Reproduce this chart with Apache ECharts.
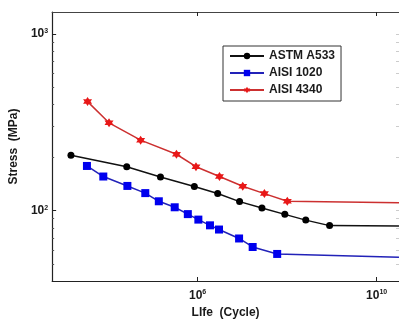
<!DOCTYPE html>
<html>
<head>
<meta charset="utf-8">
<script src="https://cdn.jsdelivr.net/npm/echarts@6/dist/echarts.min.js"></script>
<style>
  html, body { margin: 0; padding: 0; background: #fff; }
  #chart { width: 399px; height: 324px; }
</style>
</head>
<body>
<div id="chart"></div>
<script>
// S-N curves, values (cycles, MPa)
const seriesNames = ["ASTM A533", "AISI 1020", "AISI 4340"]

const a533Life = [1.48e3, 2.61e4, 1.48e5, 8.45e5, 2.81e6, 8.67e6, 2.74e7, 8.89e7, 2.61e8, 8.89e8, 3.16e10]
const a533Stress = [206, 177, 155, 137, 125, 112.5, 103.5, 95.3, 88.4, 82.3, 82]

const aisi1020Life = [3.37e3, 7.82e3, 2.7e4, 6.78e4, 1.36e5, 3.08e5, 6.05e5, 1.04e6, 1.89e6, 3.01e6, 8.45e6, 1.7e7, 6.0e7, 3.16e10]
const aisi1020Stress = [179, 156, 138, 125.7, 113, 104.5, 95.6, 89, 82.6, 78.2, 69.6, 62.3, 56.9, 54.5]

const aisi4340Life = [3.48e3, 1.05e4, 5.33e4, 3.37e5, 9.2e5, 3.08e6, 1.02e7, 3.11e7, 1.01e8, 3.16e10]
const aisi4340Stress = [414, 314, 250.6, 208.5, 177.3, 156, 137.4, 124.9, 113.1, 111]

const xMajorTicks = [1e6, 1e10]
const yMajorTicks = [100, 1000]
const yMinorTicks = [50, 60, 70, 80, 90, 200, 300, 400, 500, 600, 700, 800, 900]

const xMin = Math.pow(10, 2.75)
const xMax = Math.pow(10, 10.5)
const yMin = 40
const yMax = 1330

const font = "'Liberation Sans', Arial, sans-serif"
const textColor = "#1a1a1a"

function pairs(xs, ys) {
  // last point only carries the flat tail of the curve, no marker
  return xs.map((x, i) => {
    const item = { value: [x, ys[i]] }
    if (i === xs.length - 1) item.symbol = "none"
    return item
  })
}

function powLabel(v) {
  const e = Math.round(Math.log10(v))
  return "{b|10}{s|" + e + "}"
}

const powRich = {
  b: { fontSize: 12, fontWeight: "bold", fontFamily: font, color: textColor },
  s: { fontSize: 7, fontWeight: "bold", fontFamily: font, color: textColor, verticalAlign: "top", padding: [0, 0, 6, 0] },
}

const starPath = "path://M0,-10 L2.9,-5 L8.7,-5 L5.8,0 L8.7,5 L2.9,5 L0,10 L-2.9,5 L-8.7,5 L-5.8,0 L-8.7,-5 L-2.9,-5 Z"

const chart = echarts.init(document.getElementById("chart"), null, { renderer: "canvas" })

const option = {
  animation: false,
  backgroundColor: "#fff",
  textStyle: { fontFamily: font },
  grid: { left: 51, right: -1, top: 12, bottom: 38, containLabel: false },
  legend: {
    data: seriesNames,
    orient: "vertical",
    left: 223,
    top: 46,
    padding: [4, 6, 5, 6],
    itemGap: 5,
    itemWidth: 34,
    itemHeight: 8,
    itemTextGap: 3,
    borderColor: "#333",
    borderWidth: 1,
    backgroundColor: "#fff",
    textStyle: { fontSize: 12, fontWeight: "bold", color: textColor, fontFamily: font },
  },
  xAxis: [
    {
      type: "log",
      logBase: 10,
      min: xMin,
      max: xMax,
      position: "bottom",
      name: "LIfe  (Cycle)",
      nameLocation: "middle",
      nameGap: 26,
      nameTextStyle: { fontSize: 12, fontWeight: "bold", color: textColor, fontFamily: font },
      axisLine: { lineStyle: { color: "#222", width: 1.2 } },
      axisTick: { inside: true, length: 4, customValues: xMajorTicks, lineStyle: { color: "#222" } },
      axisLabel: { customValues: xMajorTicks, margin: 8, formatter: powLabel, rich: powRich },
      splitLine: { show: false },
    },
    {
      type: "log",
      logBase: 10,
      min: xMin,
      max: xMax,
      position: "top",
      axisLine: { lineStyle: { color: "#444", width: 1.2 } },
      axisTick: { inside: true, length: 4, customValues: xMajorTicks, lineStyle: { color: "#222" } },
      axisLabel: { show: false },
      splitLine: { show: false },
    },
  ],
  yAxis: [
    {
      type: "log",
      logBase: 10,
      min: yMin,
      max: yMax,
      position: "left",
      name: "Stress  (MPa)",
      nameLocation: "middle",
      nameGap: 25,
      nameTextStyle: { fontSize: 12, fontWeight: "bold", color: textColor, fontFamily: font },
      axisLine: { lineStyle: { color: "#222", width: 1.2 } },
      axisTick: { inside: true, length: 4, customValues: yMajorTicks, lineStyle: { color: "#222" } },
      axisLabel: { customValues: yMajorTicks, margin: 4, formatter: powLabel, rich: powRich },
      splitLine: { show: false },
    },
    {
      type: "log",
      logBase: 10,
      min: yMin,
      max: yMax,
      position: "left",
      axisLine: { show: false },
      axisTick: { inside: true, length: 2, customValues: yMinorTicks, lineStyle: { color: "#555" } },
      axisLabel: { show: false },
      splitLine: { show: false },
    },
    {
      type: "log",
      logBase: 10,
      min: yMin,
      max: yMax,
      position: "right",
      axisLine: { show: false },
      axisTick: { inside: true, length: 3, customValues: yMajorTicks.concat(yMinorTicks), lineStyle: { color: "#ccc" } },
      axisLabel: { show: false },
      splitLine: { show: false },
    },
  ],
  series: [
    {
      name: seriesNames[0],
      type: "line",
      data: pairs(a533Life, a533Stress),
      symbol: "circle",
      symbolSize: 7,
      lineStyle: { color: "#111", width: 1.5 },
      itemStyle: { color: "#000" },
      z: 3,
    },
    {
      name: seriesNames[1],
      type: "line",
      data: pairs(aisi1020Life, aisi1020Stress),
      symbol: "rect",
      symbolSize: 8,
      lineStyle: { color: "#2222b8", width: 1.5 },
      itemStyle: { color: "#0000ee" },
      z: 2,
    },
    {
      name: seriesNames[2],
      type: "line",
      data: pairs(aisi4340Life, aisi4340Stress),
      symbol: starPath,
      symbolSize: 9,
      lineStyle: { color: "#cc3030", width: 1.5 },
      itemStyle: { color: "#e81818" },
      z: 4,
    },
  ],
}

chart.setOption(option)
</script>
</body>
</html>
